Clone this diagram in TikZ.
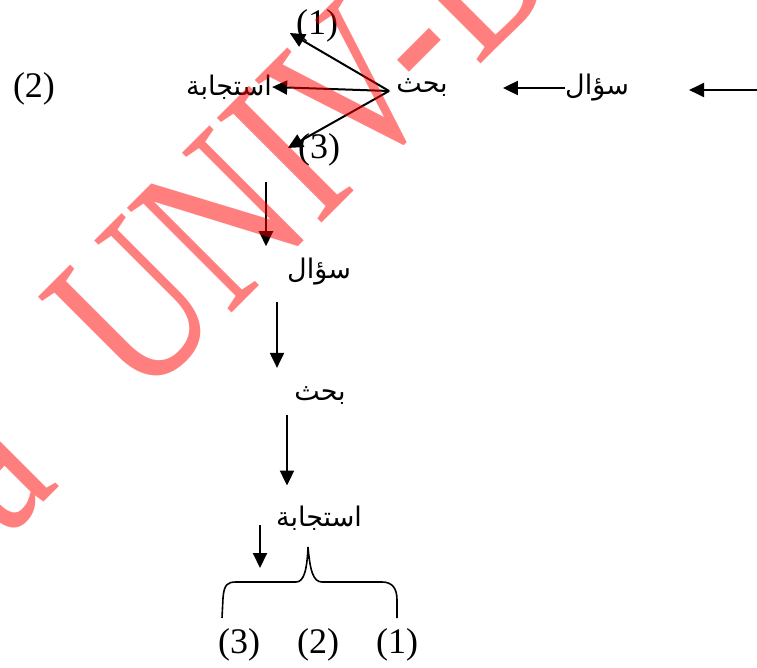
\documentclass[tikz,border=0pt]{standalone}
\usepackage{graphicx}
\usepackage{fontspec}
\setmainfont{Liberation Serif}
\newfontfamily\arabicfont[Script=Arabic]{DejaVu Sans}
\TeXXeTstate=1
\usetikzlibrary{positioning,arrows.meta}
\tikzset{
  word/.style={inner sep=0pt, font=\arabicfont\fontsize{27}{30}\selectfont},
  num/.style={inner sep=0pt, font=\fontsize{36}{40}\selectfont},
  arr/.style={line width=2pt, -{Triangle[length=15pt,width=14pt]}},
  brace/.style={line width=1.6pt},
  wmark/.style={inner sep=0pt, rotate=45, text=red, text opacity=0.5,
    font=\fontsize{226}{226}\selectfont}
}

\begin{document}
\begin{tikzpicture}[x=1pt,y=1pt]
\useasboundingbox (0,0) rectangle (757,-668);

% top row
\node[word] (q1) at (597,-88) {\beginR سؤال\endR};
\node[word] (b1) at (422,-88) {\beginR بحث\endR};
\node[word] (r1) at (229,-87) {\beginR استجابة\endR};
\node[num] (n2) at (34,-89) {(2)};
\node[num] (n1) at (317,-26) {(1)};
\node[num] (n3) at (319,-150) {(3)};

\coordinate (in) at (757,-90);
\draw[arr, shorten >=60pt] (in) -- (in -| q1.east);
\draw[arr, shorten >=55pt] (q1.west) -- (b1.east);
\coordinate (o) at ([xshift=-7pt,yshift=-3pt]b1.west);
\draw[arr] (o) -- ([xshift=-6pt,yshift=-7pt]n1.west);
\draw[arr] (o) -- (r1.east);
\draw[arr] (o) -- ([xshift=-10pt,yshift=2pt]n3.west);

% column
\node[word] (q2) at (319,-272) {\beginR سؤال\endR};
\node[word] (b2) at (320,-396) {\beginR بحث\endR};
\node[word] (r2) at (319,-518) {\beginR استجابة\endR};

\coordinate (d0) at (266,-182);
\draw[arr, shorten >=12pt] (d0) -- (d0 |- q2.north);
\coordinate (d1) at ([xshift=-42pt]q2.south);
\draw[arr, shorten <=16pt, shorten >=19pt] (d1) -- (d1 |- b2.north);
\coordinate (d2) at ([xshift=-33pt]b2.south);
\draw[arr, shorten <=10pt, shorten >=20pt] (d2) -- (d2 |- r2.north);

% brace and its three cases
\node[num] (m3) at (239,-645) {(3)};
\node[num] (m2) at (318,-645) {(2)};
\node[num] (m1) at (397,-645) {(1)};
\draw[brace] (222,-618) -- (223,-598) .. controls (224,-584) and (228,-582) .. (236,-582)
  -- (296,-582) .. controls (304,-582) and (307,-570) .. (308,-547)
  .. controls (310,-570) and (313,-582) .. (322,-582)
  -- (382,-582) .. controls (392,-582) and (397,-588) .. (397,-600) -- (397,-618);
\coordinate (d3) at (260,-525);
\draw[arr, shorten >=14pt] (d3) -- (260,-582);

% watermark
\begin{scope}
\clip (0,0) rectangle (757,-668);
\node[wmark, anchor=base west] (wm1) at (140,-405) {\scalebox{0.77}[1]{UNIV-BISKRA}};
\node[wmark, anchor=base east] (wm0) at (61,-485) {\scalebox{0.77}[1]{a}};
\end{scope}
\end{tikzpicture}
\end{document}
